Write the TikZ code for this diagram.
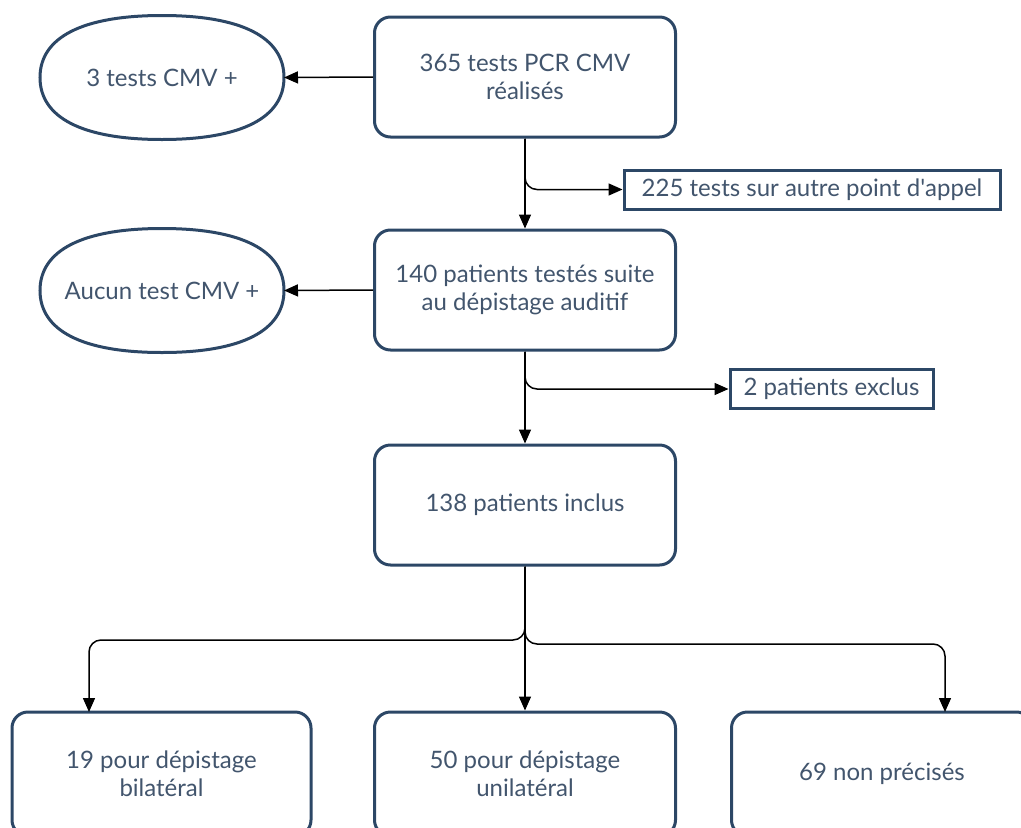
\documentclass[tikz,border=0pt]{standalone}
\usepackage{fontspec}
\setmainfont{Lato}
\usetikzlibrary{arrows.meta,calc}
\definecolor{txt}{HTML}{42556D}
\definecolor{brd}{HTML}{2C4766}
\tikzset{
  base/.style={draw=brd, line width=3pt, text=txt, font=\fontsize{24}{28}\selectfont, align=center, inner sep=0pt},
  rbox/.style={base, rounded corners=16pt, minimum width=301pt, minimum height=120pt},
  oval/.style={base, draw=none, minimum width=241pt, minimum height=121pt},
  ovalline/.style={draw=brd, line width=3pt},
  sbox/.style={base, minimum height=39pt},
  conn/.style={line width=1.5pt, -{Triangle[length=14pt,width=12pt]}},
}
\newcommand{\ovalpath}[1]{%
  \draw[ovalline] (#1.north) .. controls +(80,0) and +(0,-40) .. (#1.east)
    .. controls +(0,40) and +(80,0) .. (#1.south)
    .. controls +(-80,0) and +(0,40) .. (#1.west)
    .. controls +(0,-40) and +(-80,0) .. (#1.north) -- cycle;}
\begin{document}
\begin{tikzpicture}[x=1pt,y=-1pt]
\useasboundingbox (0,0) rectangle (1021,828);
\node[oval] (e1) at (162,77.5) {3 tests CMV +};
\node[rbox] (b1) at (525,77) {365 tests PCR CMV\\réalisés};
\node[sbox, minimum width=376pt] (s1) at (812,189.5) {225 tests sur autre point d\textquotesingle appel};
\node[rbox] (b2) at (525,290) {140 patients testés suite\\au dépistage auditif};
\node[oval] (e2) at (162,290.5) {Aucun test CMV +};
\node[sbox, minimum width=203pt] (s2) at (831.5,389) {2 patients exclus};
\node[rbox] (b3) at (525,505) {138 patients inclus};
\node[rbox, minimum width=299pt, minimum height=124pt] (bA) at (161.5,774) {19 pour dépistage\\bilatéral};
\node[rbox, minimum height=124pt] (bB) at (525,774) {50 pour dépistage\\unilatéral};
\node[rbox, minimum height=124pt] (bC) at (882,774) {69 non précisés};
\ovalpath{e1}
\ovalpath{e2}
\coordinate (tA) at (89,712);
\coordinate (tC) at (945,712);
\coordinate (fL) at (525,640);
\coordinate (fR) at (525,644);
\draw[conn] (b1.west) -- (e1.east);
\draw[conn] (b2.west) -- (e2.east);
\draw[conn] (b1.south) -- (b2.north);
\draw[conn, rounded corners=12pt] (b1.south) |- (s1.west);
\draw[conn] (b2.south) -- (b3.north);
\draw[conn, rounded corners=12pt] (b2.south) |- (s2.west);
\draw[conn] (b3.south) -- (bB.north);
\draw[conn, rounded corners=12pt] (b3.south) -- (fL) -| (tA);
\draw[conn, rounded corners=12pt] (b3.south) -- (fR) -| (tC);
\end{tikzpicture}
\end{document}
